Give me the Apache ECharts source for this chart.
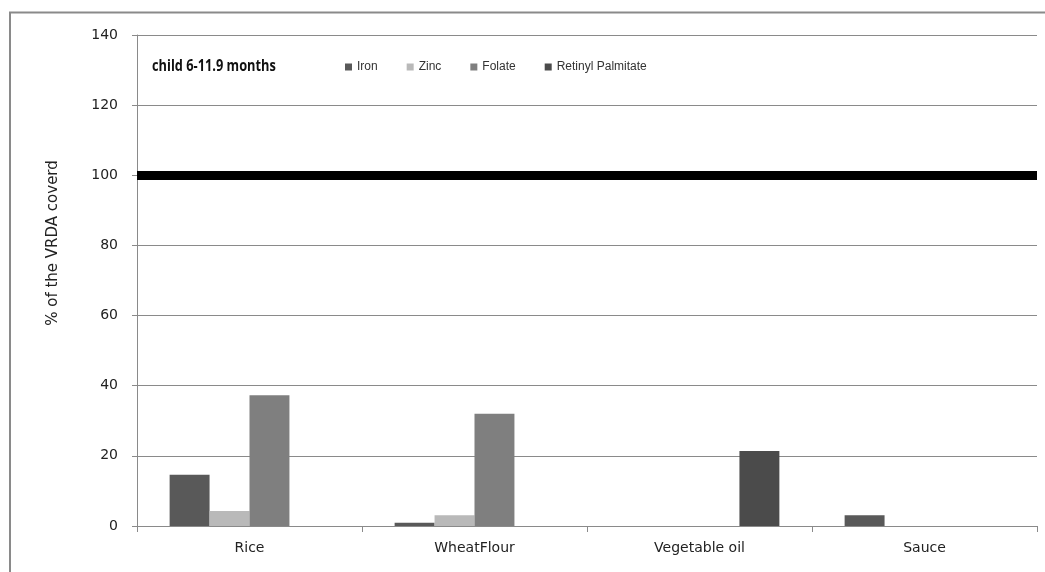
<!DOCTYPE html>
<html>
<head>
<meta charset="utf-8">
<script src="https://cdn.jsdelivr.net/npm/echarts@6/dist/echarts.min.js"></script>
<style>
  html, body { margin: 0; padding: 0; background: #fff; }
  #chart { width: 1045px; height: 572px; }
</style>
</head>
<body>
<div id="chart"></div>
<script>
// Share of the VRDA covered per fortified food vehicle
const categories = ['Rice', 'WheatFlour', 'Vegetable oil', 'Sauce'];
const iron = [14.6, 0.9, 0, 3.1];
const zinc = [4.3, 3.1, 0, 0];
const folate = [37.3, 32.0, 0, 0];
const retinylPalmitate = [0, 0, 21.4, 0];
const seriesNames = ['Iron', 'Zinc', 'Folate', 'Retinyl Palmitate'];
const seriesColors = ['#595959', '#b9b9b9', '#7f7f7f', '#4b4b4b'];
const referenceLevel = 100;
const yTicks = [0, 20, 40, 60, 80, 100, 120, 140];
const titleText = 'child 6-11.9 months';
const yAxisTitle = '% of the VRDA coverd';

const chart = echarts.init(document.getElementById('chart'), null, { renderer: 'canvas' });

const values = [iron, zinc, folate, retinylPalmitate];
const series = values.map((data, i) => ({
  name: seriesNames[i],
  type: 'bar',
  data: data,
  barGap: '0%',
  barCategoryGap: '29%',
  itemStyle: { color: seriesColors[i] },
  z: 2
}));
// 100 % reference line
series[0].markLine = {
  silent: true,
  symbol: ['none', 'none'],
  label: { show: false },
  lineStyle: { color: '#000', width: 9, type: 'solid' },
  data: [{ yAxis: referenceLevel }],
  z: 5
};

chart.setOption({
  animation: false,
  backgroundColor: '#fff',
  graphic: [{
    // outer chart frame
    type: 'rect',
    shape: { x: 10, y: 12.5, width: 1100, height: 620 },
    style: { fill: 'none', stroke: '#8a8a8a', lineWidth: 2 },
    silent: true,
    z: -1
  }, {
    // condensed bold chart title
    type: 'text',
    x: 152,
    y: 66,
    scaleX: 0.8,
    silent: true,
    style: {
      text: titleText,
      fontFamily: 'Open Sans',
      fontWeight: 'bold',
      fontSize: 16,
      fill: '#111',
      align: 'left',
      verticalAlign: 'middle'
    }
  }, {
    type: 'text',
    x: 53,
    y: 243,
    rotation: Math.PI / 2,
    silent: true,
    style: {
      text: yAxisTitle,
      fontFamily: 'DejaVu Sans',
      fontSize: 15,
      fill: '#222',
      align: 'center',
      verticalAlign: 'middle'
    }
  }],
  legend: {
    data: seriesNames,
    left: 340,
    top: 56,
    icon: 'rect',
    itemWidth: 7,
    itemHeight: 7,
    itemGap: 29,
    textStyle: { fontFamily: 'Liberation Sans', fontSize: 12, color: '#333' }
  },
  grid: { left: 137, right: 8, top: 35, bottom: 46, containLabel: false },
  xAxis: {
    type: 'category',
    data: categories,
    axisLine: { lineStyle: { color: '#8a8a8a', width: 1 } },
    axisTick: { show: true, length: 6, lineStyle: { color: '#8a8a8a' } },
    axisLabel: { fontFamily: 'DejaVu Sans', fontSize: 14, color: '#222', margin: 15 }
  },
  yAxis: {
    type: 'value',
    min: yTicks[0],
    max: yTicks[yTicks.length - 1],
    interval: 20,
    axisLine: { show: true, lineStyle: { color: '#8a8a8a', width: 1 } },
    axisTick: { show: true, length: 5, lineStyle: { color: '#8a8a8a' } },
    axisLabel: { fontFamily: 'DejaVu Sans', fontSize: 14, color: '#222', margin: 19 },
    splitLine: { lineStyle: { color: '#8a8a8a', width: 1 } }
  },
  series: series
});
</script>
</body>
</html>
